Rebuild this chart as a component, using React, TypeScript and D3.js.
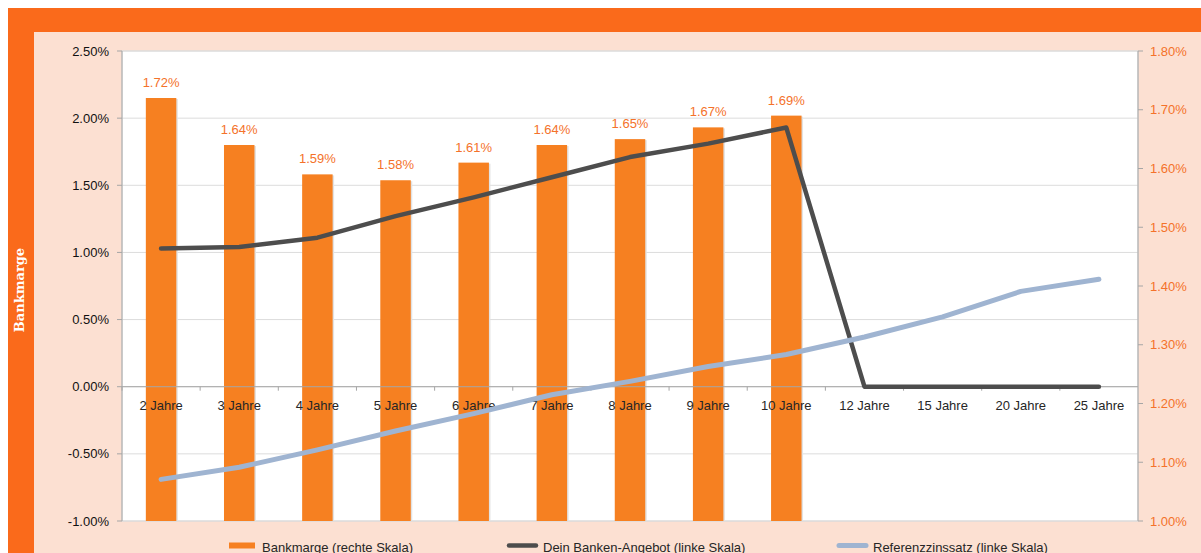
import * as d3 from "d3";

const categories = [
  "2 Jahre", "3 Jahre", "4 Jahre", "5 Jahre", "6 Jahre", "7 Jahre", "8 Jahre",
  "9 Jahre", "10 Jahre", "12 Jahre", "15 Jahre", "20 Jahre", "25 Jahre",
];
// Bankmarge, rechte Skala (nur bis 10 Jahre)
const bankmarge = [1.72, 1.64, 1.59, 1.58, 1.61, 1.64, 1.65, 1.67, 1.69];
// Dein Banken-Angebot, linke Skala
const angebot = [1.03, 1.04, 1.11, 1.27, 1.41, 1.56, 1.71, 1.81, 1.93, 0, 0, 0, 0];
// Referenzzinssatz, linke Skala
const referenz = [-0.69, -0.6, -0.47, -0.33, -0.2, -0.06, 0.04, 0.15, 0.24, 0.37, 0.52, 0.71, 0.8];
const leftTicks = [2.5, 2, 1.5, 1, 0.5, 0, -0.5, -1];
const rightTicks = [1.8, 1.7, 1.6, 1.5, 1.4, 1.3, 1.2, 1.1, 1.0];

const FONT = "'Liberation Sans', Arial, sans-serif";
const FRAME = "#FA6A1B";
const PEACH = "#FCE0D2";
const BAR = "#F68021";
const LABEL_ORANGE = "#F4722A";

export default function App() {
  const plot = { left: 122, right: 1138, top: 51, bottom: 521 };

  const x = d3.scaleBand<string>().domain(categories).range([plot.left, plot.right]).padding(0);
  const step = x.step();
  const barW = step * 0.39;
  const cx = (c: string) => (x(c) as number) + step / 2;

  const yL = d3.scaleLinear().domain([-1, 2.5]).range([plot.bottom, plot.top]);
  const yR = d3.scaleLinear().domain([1.0, 1.8]).range([plot.bottom, plot.top]);

  const lineL = d3
    .line<number>()
    .x((_, i) => cx(categories[i]))
    .y((d) => yL(d));

  const fmt = (v: number) => v.toFixed(2) + "%";
  const zeroY = yL(0);

  return (
    <svg
      width={1201}
      height={553}
      style={{ position: "absolute", left: 0, top: 0 }}
      fontFamily={FONT}
    >
      {/* frame */}
      <rect x={8} y={8} width={1193} height={545} fill={FRAME} />
      <rect x={34} y={32} width={1167} height={521} fill={PEACH} />
      <text
        transform="translate(24,290) rotate(-90)"
        textAnchor="middle"
        fill="#fff"
        fontFamily="'DejaVu Serif', serif"
        fontWeight="bold"
        fontSize={13}
      >
        Bankmarge
      </text>

      {/* plot area */}
      <rect
        x={plot.left}
        y={plot.top}
        width={plot.right - plot.left}
        height={plot.bottom - plot.top}
        fill="#fff"
        stroke="#D9D9D9"
        strokeWidth={1}
      />

      {/* gridlines */}
      {leftTicks.map((t) => (
        <line
          key={"g" + t}
          x1={plot.left}
          x2={plot.right}
          y1={yL(t)}
          y2={yL(t)}
          stroke="#DCDCDC"
          strokeWidth={1}
        />
      ))}

      {/* bars */}
      {bankmarge.map((v, i) => {
        const c = categories[i];
        const bx = cx(c) - barW / 2;
        return (
          <g key={"b" + c}>
            <rect x={bx + 1.5} y={yR(v) + 1} width={barW} height={plot.bottom - yR(v) - 1} fill="#E2E2E2" />
            <rect x={bx} y={yR(v)} width={barW} height={plot.bottom - yR(v)} fill={BAR} />
            <text
              x={cx(c)}
              y={yR(v) - 11}
              textAnchor="middle"
              fill={LABEL_ORANGE}
              fontSize={13}
            >
              {fmt(v)}
            </text>
          </g>
        );
      })}

      {/* x axis */}
      <line x1={plot.left} x2={plot.right} y1={zeroY} y2={zeroY} stroke="#A6A6A6" strokeWidth={1} />
      {categories.map((c, i) => (
        <line
          key={"xt" + c}
          x1={plot.left + i * step}
          x2={plot.left + i * step}
          y1={zeroY}
          y2={zeroY + 4}
          stroke="#A6A6A6"
        />
      ))}
      {categories.map((c) => (
        <text key={"xl" + c} x={cx(c)} y={zeroY + 23} textAnchor="middle" fill="#262626" fontSize={13}>
          {c}
        </text>
      ))}

      {/* lines */}
      <path
        d={lineL(angebot) as string}
        fill="none"
        stroke="#4D4D4D"
        strokeWidth={4.5}
        strokeLinejoin="round"
        strokeLinecap="round"
      />
      <path
        d={lineL(referenz) as string}
        fill="none"
        stroke="#9FB4D1"
        strokeWidth={5}
        strokeLinejoin="round"
        strokeLinecap="round"
      />

      {/* left axis */}
      <line x1={plot.left} x2={plot.left} y1={plot.top} y2={plot.bottom} stroke="#A6A6A6" />
      {leftTicks.map((t) => (
        <g key={"lt" + t}>
          <line x1={plot.left - 5} x2={plot.left} y1={yL(t)} y2={yL(t)} stroke="#A6A6A6" />
          <text x={plot.left - 13} y={yL(t) + 4.5} textAnchor="end" fill="#111" fontSize={13}>
            {fmt(t)}
          </text>
        </g>
      ))}

      {/* right axis */}
      <line x1={plot.right} x2={plot.right} y1={plot.top} y2={plot.bottom} stroke="#A6A6A6" />
      {rightTicks.map((t) => (
        <g key={"rt" + t}>
          <line x1={plot.right} x2={plot.right + 5} y1={yR(t)} y2={yR(t)} stroke="#A6A6A6" />
          <text x={plot.right + 12} y={yR(t) + 4.5} textAnchor="start" fill={LABEL_ORANGE} fontSize={13}>
            {fmt(t)}
          </text>
        </g>
      ))}

      {/* legend */}
      <g fontSize={13} fill="#262626">
        <rect x={229} y={542.5} width={26} height={6} fill={BAR} />
        <text x={262} y={551.5}>Bankmarge (rechte Skala)</text>
        <line x1={509} x2={536} y1={545.5} y2={545.5} stroke="#4D4D4D" strokeWidth={4.5} strokeLinecap="round" />
        <text x={543} y={551.5}>Dein Banken-Angebot (linke Skala)</text>
        <line x1={839} x2={866} y1={545.5} y2={545.5} stroke="#9FB4D1" strokeWidth={5} strokeLinecap="round" />
        <text x={873} y={551.5}>Referenzzinssatz (linke Skala)</text>
      </g>
    </svg>
  );
}
